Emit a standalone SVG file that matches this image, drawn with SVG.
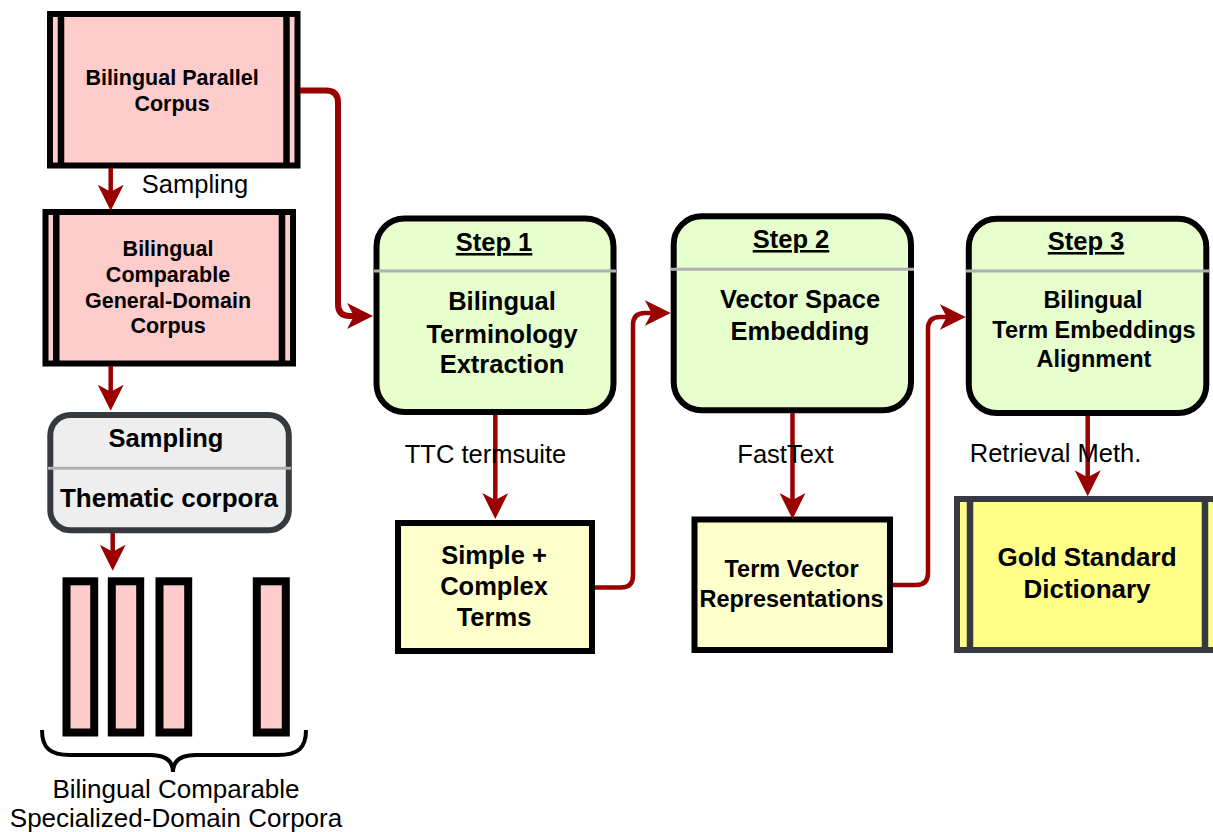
<svg xmlns="http://www.w3.org/2000/svg" width="1213" height="832" viewBox="0 0 1213 832">
<style>
text{font-family:"Liberation Sans",Arial,Helvetica,sans-serif;fill:#000;text-anchor:middle}
.b{font-weight:bold}
.lbl{font-size:25.5px}
.pink{fill:#ffcccc;stroke:#000;stroke-width:6}
.bar{fill:#ffcccc;stroke:#000;stroke-width:8}
.step{fill:#e6ffcc;stroke:#000;stroke-width:6}
.term{fill:#ffffcc;stroke:#000;stroke-width:6}
.in{stroke:#000;stroke-width:6.5}
.div{stroke:#b0b0b0;stroke-width:3}
.con{fill:none;stroke:#990000;stroke-width:4.5;stroke-linejoin:round}
</style>
<defs>
<marker id="ah" markerUnits="userSpaceOnUse" markerWidth="26" markerHeight="26" viewBox="0 0 26 26" refX="8" refY="13" orient="auto">
<path d="M0,0 L26,13 L0,26 L7,13 Z" fill="#990000"/>
</marker>
</defs>
<g id="bilingual-parallel-corpus">
<rect class="pink" x="50" y="14" width="247.5" height="151.5"/>
<line class="in" x1="61" y1="14" x2="61" y2="165.5"/>
<line class="in" x1="286.5" y1="14" x2="286.5" y2="165.5"/>
<text class="b" font-size="21.5" x="172" y="85">Bilingual Parallel</text>
<text class="b" font-size="21.5" x="172" y="111">Corpus</text>
</g>
<g id="bilingual-comparable-general">
<rect class="pink" x="45.5" y="212" width="247.5" height="151.5"/>
<line class="in" x1="56.3" y1="212" x2="56.3" y2="363.5"/>
<line class="in" x1="282" y1="212" x2="282" y2="363.5"/>
<text class="b" font-size="21.5" x="168" y="256">Bilingual</text>
<text class="b" font-size="21.5" x="168" y="282">Comparable</text>
<text class="b" font-size="21.5" x="168" y="308">General-Domain</text>
<text class="b" font-size="21.5" x="168" y="333">Corpus</text>
</g>
<g id="sampling-thematic">
<rect x="50.3" y="415" width="238.5" height="115.3" rx="20" fill="#eeeeee" stroke="#36393d" stroke-width="6"/>
<line class="div" x1="48" y1="468.3" x2="291" y2="468.3"/>
<text class="b lbl" x="166" y="447">Sampling</text>
<text class="b" font-size="26" x="169" y="507">Thematic corpora</text>
</g>
<g id="specialized-corpora">
<rect class="bar" x="66.5" y="581.3" width="27.7" height="151.2"/>
<rect class="bar" x="111.8" y="581.3" width="28.4" height="151.2"/>
<rect class="bar" x="159.5" y="581.3" width="28.7" height="151.2"/>
<rect class="bar" x="256.8" y="581.3" width="29" height="151.2"/>
<path d="M42,730 C42,748 50,755 70,755 L150,755 C165,755 173,760 173,772 C173,760 181,755 196,755 L278,755 C298,755 306,748 306,730" fill="none" stroke="#000" stroke-width="4"/>
<text font-size="26" x="176" y="798">Bilingual Comparable</text>
<text font-size="26" x="176" y="827">Specialized-Domain Corpora</text>
</g>
<g id="step1">
<rect class="step" x="376.5" y="218.5" width="237" height="193.5" rx="28"/>
<line class="div" x1="374" y1="271" x2="616" y2="271"/>
<text class="b lbl" x="494" y="251" text-decoration="underline">Step 1</text>
<text class="b" font-size="25.5" x="502" y="310">Bilingual</text>
<text class="b" font-size="25.5" x="502" y="343">Terminology</text>
<text class="b" font-size="25.5" x="502" y="373">Extraction</text>
</g>
<g id="step2">
<rect class="step" x="673.7" y="216.3" width="237.3" height="194" rx="28"/>
<line class="div" x1="671" y1="269.3" x2="914" y2="269.3"/>
<text class="b lbl" x="791" y="248" text-decoration="underline">Step 2</text>
<text class="b" font-size="25.5" x="800" y="308">Vector Space</text>
<text class="b" font-size="25.5" x="800" y="340">Embedding</text>
</g>
<g id="step3">
<rect class="step" x="968.8" y="218.8" width="237.5" height="194.2" rx="28"/>
<line class="div" x1="966" y1="271" x2="1209" y2="271"/>
<text class="b lbl" x="1086" y="250" text-decoration="underline">Step 3</text>
<text class="b" font-size="23.5" x="1093" y="308">Bilingual</text>
<text class="b" font-size="23.5" x="1094" y="338">Term Embeddings</text>
<text class="b" font-size="23.5" x="1094" y="367">Alignment</text>
</g>
<g id="simple-complex-terms">
<rect class="term" x="398" y="523" width="194" height="128"/>
<text class="b" font-size="25.5" x="494" y="564">Simple +</text>
<text class="b" font-size="25.5" x="494" y="595">Complex</text>
<text class="b" font-size="25.5" x="494" y="626">Terms</text>
</g>
<g id="term-vector-representations">
<rect class="term" x="694.5" y="519.5" width="195.5" height="130.5"/>
<text class="b" font-size="23.5" x="791.5" y="577">Term Vector</text>
<text class="b" font-size="23.5" x="791.5" y="607">Representations</text>
</g>
<g id="gold-standard-dictionary">
<rect x="957" y="499" width="261" height="151" fill="#ffff88" stroke="#36393d" stroke-width="6"/>
<line x1="970" y1="499" x2="970" y2="650" stroke="#36393d" stroke-width="6.5"/>
<line x1="1205" y1="499" x2="1205" y2="650" stroke="#36393d" stroke-width="6.5"/>
<text class="b" font-size="26" x="1087" y="566">Gold Standard</text>
<text class="b" font-size="26" x="1087" y="598">Dictionary</text>
</g>
<g id="connectors">
<path class="con" d="M110.7,168 L110.7,192.7" marker-end="url(#ah)"/>
<path class="con" d="M110.7,366 L110.7,392.7" marker-end="url(#ah)"/>
<path class="con" d="M112.7,533 L112.7,552.7" marker-end="url(#ah)"/>
<path class="con" d="M300,90.5 L326,90.5 Q338,90.5 338,102.5 L338,304 Q338,316 350,316 L355,316" marker-end="url(#ah)" style="stroke-width:6"/>
<path class="con" d="M495.3,415 L495.3,501" marker-end="url(#ah)"/>
<path class="con" d="M595,587.5 L621,587.5 Q633,587.5 633,575.5 L633,325 Q633,313 645,313 L652.7,313" marker-end="url(#ah)"/>
<path class="con" d="M792.5,413 L792.5,501" marker-end="url(#ah)"/>
<path class="con" d="M893,585 L916,585 Q928,585 928,573 L928,329 Q928,317 940,317 L947.7,317" marker-end="url(#ah)"/>
<path class="con" d="M1087.7,416 L1087.7,478.3" marker-end="url(#ah)"/>
<text class="lbl" x="195" y="193">Sampling</text>
<text class="lbl" x="485.5" y="463">TTC termsuite</text>
<text class="lbl" x="785.5" y="463">FastText</text>
<text class="lbl" x="1055.5" y="462">Retrieval Meth.</text>
</g>
</svg>
